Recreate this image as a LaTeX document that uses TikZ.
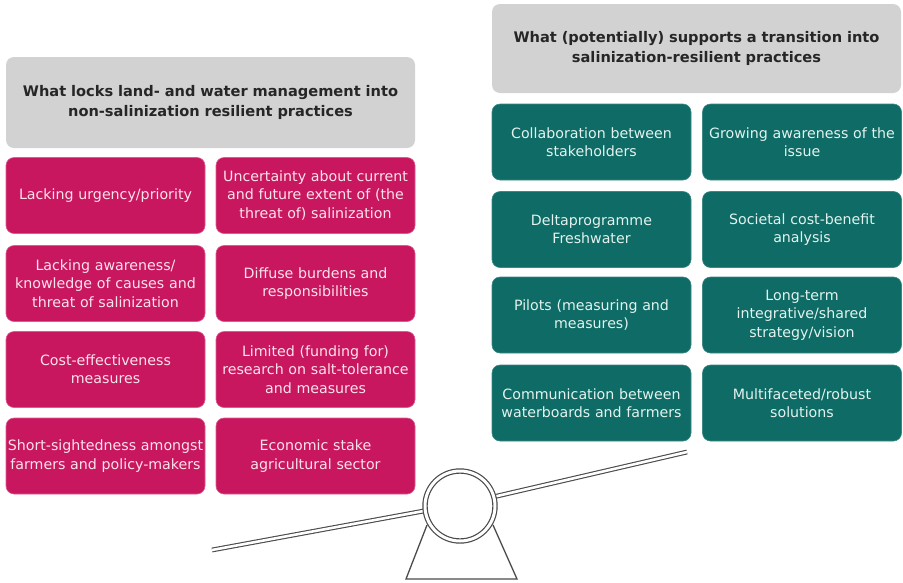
\documentclass[tikz,border=0pt]{standalone}
\usepackage{fontspec}
\setmainfont{DejaVu Sans}
\definecolor{pinkbox}{HTML}{C8175F}
\definecolor{tealbox}{HTML}{0E6B65}
\definecolor{headgray}{HTML}{D2D2D2}
\definecolor{pinktext}{HTML}{FBE3EC}
\definecolor{tealtext}{HTML}{E3F3EF}
\definecolor{lever}{HTML}{4A4A4A}
\hfuzz=20pt
\begin{document}
\begin{tikzpicture}[x=1pt,y=-1pt,
  basebox/.style={rounded corners=8pt, align=center, inner sep=0pt,
    font=\fontsize{14.2}{18.3}\selectfont},
  pinkcell/.style={basebox, fill=pinkbox, text=pinktext, draw=pinkbox!70!white, line width=0.6pt,
    minimum width=199pt, minimum height=76pt, text width=198pt},
  tealcell/.style={basebox, fill=tealbox, text=tealtext, draw=tealbox!80!white, line width=0.6pt,
    minimum width=199pt, minimum height=76pt, text width=198pt},
  headcell/.style={basebox, fill=headgray, text=black!85, minimum width=409pt, text width=405pt,
    font=\bfseries\fontsize{14.6}{20}\selectfont},
  leverline/.style={draw=lever, line width=1.1pt, double=white, double distance=2.6pt}
]
\useasboundingbox (0,0) rectangle (903,582);

% left header and boxes
\node[headcell, minimum height=91pt] (lh) at (210.5,102.5)
  {What locks land- and water management into\\non-salinization resilient practices};
\node[pinkcell] (p11) at (105.5,195.5) {Lacking urgency/priority};
\node[pinkcell] (p12) at (315.5,195.5) {Uncertainty about current\\and future extent of (the\\threat of) salinization};
\node[pinkcell] (p21) at (105.5,283.5) {Lacking awareness/\\knowledge of causes and\\threat of salinization};
\node[pinkcell] (p22) at (315.5,283.5) {Diffuse burdens and\\responsibilities};
\node[pinkcell] (p31) at (105.5,369.5) {Cost-effectiveness\\measures};
\node[pinkcell] (p32) at (315.5,369.5) {Limited (funding for)\\research on salt-tolerance\\and measures};
\node[pinkcell] (p41) at (105.5,456) {Short-sightedness amongst\\farmers and policy-makers};
\node[pinkcell] (p42) at (315.5,456) {Economic stake\\agricultural sector};

% right header and boxes
\node[headcell, minimum height=89pt] (rh) at (696.5,48.5)
  {What (potentially) supports a transition into\\salinization-resilient practices};
\node[tealcell] (t11) at (591.5,142) {Collaboration between\\stakeholders};
\node[tealcell] (t12) at (802,142) {Growing awareness of the\\issue};
\node[tealcell] (t21) at (591.5,229.5) {Deltaprogramme\\Freshwater};
\node[tealcell] (t22) at (802,229.5) {Societal cost-benefit\\analysis};
\node[tealcell] (t31) at (591.5,315) {Pilots (measuring and\\measures)};
\node[tealcell] (t32) at (802,315) {Long-term\\integrative/shared\\strategy/vision};
\node[tealcell] (t41) at (591.5,403) {Communication between\\waterboards and farmers};
\node[tealcell] (t42) at (802,403) {Multifaceted/robust\\solutions};

% seesaw
\coordinate (pivot) at (460,506);
\draw[leverline] (212,550) -- (440,508);
\draw[leverline] (480,500) -- (687,452);
\draw[draw=lever, line width=1.3pt] (427,525) -- (406,579) -- (517,579) -- (493,525);
\fill[white] (pivot) circle (37pt);
\draw[leverline, line width=1.2pt, double distance=3pt] (pivot) circle (35pt);
\end{tikzpicture}
\end{document}
